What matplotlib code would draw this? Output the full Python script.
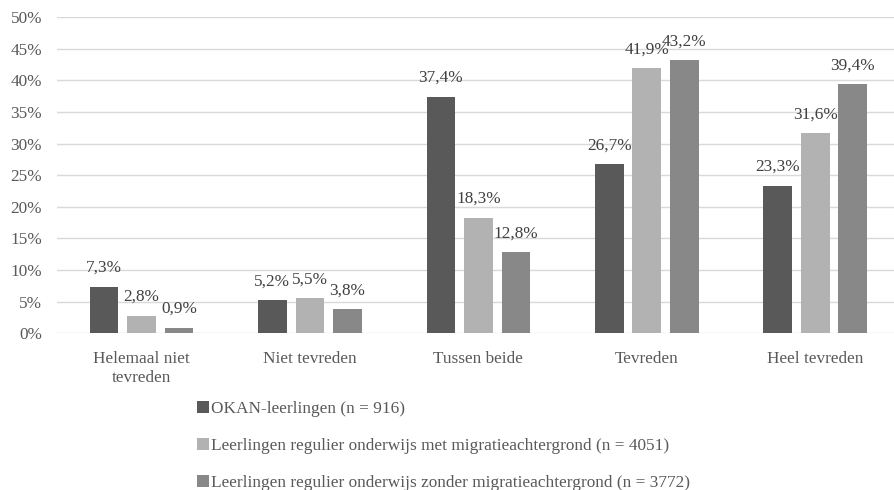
import matplotlib
matplotlib.use("Agg")
import matplotlib.pyplot as plt
import numpy as np

categories = ["Helemaal niet\ntevreden", "Niet tevreden", "Tussen beide", "Tevreden", "Heel tevreden"]
series_names = ["OKAN-leerlingen (n = 916)",
                "Leerlingen regulier onderwijs met migratieachtergrond (n = 4051)",
                "Leerlingen regulier onderwijs zonder migratieachtergrond (n = 3772)"]
okan = [7.3, 5.2, 37.4, 26.7, 23.3]
met_migratie = [2.8, 5.5, 18.3, 41.9, 31.6]
zonder_migratie = [0.9, 3.8, 12.8, 43.2, 39.4]
yticks = [0, 5, 10, 15, 20, 25, 30, 35, 40, 45, 50]

colors = ["#595959", "#b2b2b2", "#888888"]
plt.rcParams['font.family'] = ['Liberation Serif', 'DejaVu Serif']
FS = 12.4

fig = plt.figure(figsize=(8.94, 4.9), dpi=100)
ax = fig.add_axes([0.0641, 0.32, 0.942, 0.645])

x = np.arange(len(categories))
w = 0.17
step = 0.223
for i, (vals, c) in enumerate(zip([okan, met_migratie, zonder_migratie], colors)):
    pos = x + (i - 1) * step
    ax.bar(pos, vals, width=w, color=c, label=series_names[i], zorder=3)
    for p, v in zip(pos, vals):
        ax.text(p, v + 3.0, f"{v:.1f}%".replace(".", ","), ha="center", va="center",
                fontsize=FS, color="#404040", zorder=4)

ax.set_xlim(-0.5, len(categories) - 0.5)
ax.set_ylim(0, 50)
ax.set_yticks(yticks)
ax.set_yticklabels([f"{t}%" for t in yticks])
ax.set_xticks(x)
ax.set_xticklabels(categories, linespacing=1.2)
ax.tick_params(axis="both", length=0, labelsize=FS, colors="#595959")
ax.tick_params(axis="x", pad=13)
ax.tick_params(axis="y", pad=11)
ax.grid(axis="y", color="#d9d9d9", linewidth=1, zorder=0)
for s in ax.spines.values():
    s.set_visible(False)

handles, labels = ax.get_legend_handles_labels()
leg = fig.legend(handles, labels, loc="upper left", bbox_to_anchor=(0.2204, 0.181),
                 ncol=1, frameon=False, fontsize=FS, handlelength=0.7, handleheight=0.7,
                 handletextpad=0.1, labelspacing=1.2, borderaxespad=0, borderpad=0)
for t in leg.get_texts():
    t.set_color("#595959")

fig.savefig("out.png", dpi=100)
